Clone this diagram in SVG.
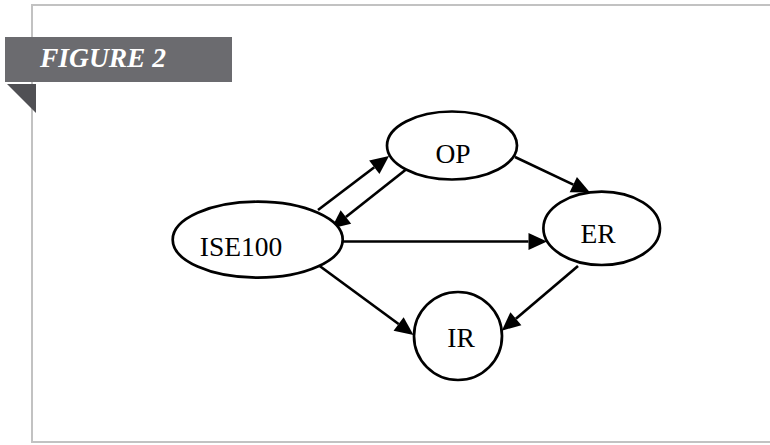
<svg xmlns="http://www.w3.org/2000/svg" width="770" height="445" viewBox="0 0 770 445">
<style>
.frame{fill:none;stroke:#c2c2c2;stroke-width:2}
.node{fill:#fff;stroke:#000;stroke-width:2.7}
.lbl{font-family:"Liberation Serif","Times New Roman",serif;font-size:27.5px;fill:#000;text-anchor:middle}
.edge{fill:none;stroke:#000;stroke-width:2.7;marker-end:url(#ah)}
.title{font-family:"Liberation Serif","Times New Roman",serif;font-size:27.5px;font-style:italic;font-weight:bold;fill:#fff}
</style>
<defs>
<marker id="ah" markerUnits="userSpaceOnUse" markerWidth="20" markerHeight="18" refX="0" refY="8.5" orient="auto" overflow="visible">
<path d="M0,0 L18.5,8.5 L0,17 z" fill="#000"/>
</marker>
</defs>
<rect width="770" height="445" fill="#fff"/>
<path class="frame" d="M772,5 H32 V442 H772"/>
<g id="banner">
<rect x="5" y="37" width="227" height="45" fill="#6b6b6f"/>
<polygon points="7,84 36,84 36,113" fill="#505054"/>
<text class="title" x="40" y="67">FIGURE 2</text>
</g>
<g id="connectors">
<path class="edge" d="M318,210 L374.3,167.2"/>
<path class="edge" d="M406,169.5 L345.9,217"/>
<path class="edge" d="M342,241.5 L528.5,241.5"/>
<path class="edge" d="M515,157 L573.3,184.6"/>
<path class="edge" d="M319,265.5 L398.6,324"/>
<path class="edge" d="M578,266 L515.9,318.7"/>
</g>
<g id="ISE100">
<ellipse class="node" cx="257.7" cy="239.7" rx="85" ry="38"/>
<text class="lbl" x="241" y="256">ISE100</text>
</g>
<g id="OP">
<ellipse class="node" cx="452" cy="145.5" rx="65" ry="34"/>
<text class="lbl" x="453" y="162.7">OP</text>
</g>
<g id="ER">
<ellipse class="node" cx="601.7" cy="228.3" rx="58.3" ry="36.7"/>
<text class="lbl" x="598" y="242.7">ER</text>
</g>
<g id="IR">
<circle class="node" cx="458" cy="336" r="44"/>
<text class="lbl" x="461" y="347.3">IR</text>
</g>
</svg>
